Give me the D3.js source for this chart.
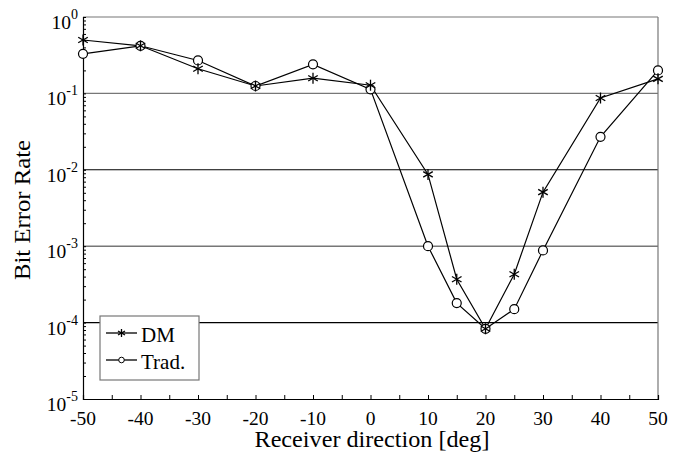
<!DOCTYPE html>
<html><head><meta charset="utf-8">
<script src="https://cdn.jsdelivr.net/npm/d3@7"></script>
<style>body{margin:0;background:#fff}svg{display:block}text{font-family:"Liberation Serif","DejaVu Serif",serif;fill:#000}</style>
</head><body><svg id="c" width="679" height="457"></svg>
<script>
const angles = [-50,-40,-30,-20,-10,0,10,15,20,25,30,40,50];
const dm   = [0.50,0.42,0.21,0.125,0.158,0.128,0.0087,3.7e-4,8.3e-5,4.3e-4,5.1e-3,0.087,0.155];
const trad = [0.33,0.42,0.27,0.125,0.24,0.113,0.001,1.8e-4,8.3e-5,1.5e-4,8.8e-4,0.027,0.20];
const xTicks = [-50,-40,-30,-20,-10,0,10,20,30,40,50];
const yExps = [0,-1,-2,-3,-4,-5];
const seriesNames = ["DM","Trad."];

const svg = d3.select("#c");
const L=83,R=658,T=17,B=399;
const x = d3.scaleLinear().domain([-50,50]).range([L,R]);
const y = d3.scaleLog().domain([1e-5,1]).range([B,T]);

// gridlines
yExps.filter(e=>e<0&&e>-5).forEach(e=>{
  const gray = (e===-1||e===-3);
  svg.append("line").attr("x1",L).attr("x2",R).attr("y1",y(Math.pow(10,e))).attr("y2",y(Math.pow(10,e)))
    .attr("stroke",gray?"#777":"#000").attr("stroke-width",gray?1.4:1.1);
});
// frame
svg.append("line").attr("x1",L).attr("x2",R).attr("y1",T).attr("y2",T).attr("stroke","#777").attr("stroke-width",1.2);
svg.append("line").attr("x1",R).attr("x2",R).attr("y1",T).attr("y2",B).attr("stroke","#777").attr("stroke-width",1.2);

// x axis
const xMinor = d3.range(-50,51,5);
const gx = svg.append("g").attr("transform",`translate(0,${B})`);
gx.call(d3.axisBottom(x).tickValues(xMinor).tickSize(-4).tickFormat(""));
gx.select(".domain").attr("stroke","#000").attr("stroke-width",1.2);
gx.selectAll(".tick line").attr("stroke","#000");
xTicks.forEach(v=>{
  svg.append("text").attr("x",x(v)).attr("y",425).attr("text-anchor","middle").attr("font-size",19.5).text(v);
});
// y axis
const yMinor=[];
for(let e=-5;e<0;e++) for(let k=1;k<10;k++) yMinor.push(k*Math.pow(10,e));
yMinor.push(1);
const gy = svg.append("g").attr("transform",`translate(${L},0)`);
gy.call(d3.axisLeft(y).tickValues(yMinor).tickSize(-3).tickFormat(""));
gy.select(".domain").attr("stroke","#000").attr("stroke-width",1.2);
gy.selectAll(".tick line").attr("stroke","#000");
yExps.forEach(e=>{
  const t = svg.append("text").attr("x",78).attr("y",y(Math.pow(10,e))+12).attr("text-anchor","end").attr("font-size",19.5);
  t.append("tspan").text("10");
  t.append("tspan").attr("dy",-10).attr("font-size",14).text(e);
});
// titles
svg.append("text").attr("x",372).attr("y",447).attr("text-anchor","middle").attr("font-size",23)
  .attr("textLength",235).attr("lengthAdjust","spacingAndGlyphs").text("Receiver direction [deg]");
svg.append("text").attr("transform","translate(30,210) rotate(-90)").attr("text-anchor","middle").attr("font-size",24)
  .attr("textLength",140).attr("lengthAdjust","spacingAndGlyphs").text("Bit Error Rate");

// lines
const line = d3.line().x((d,i)=>x(angles[i])).y(d=>y(d));
function star(g,cx,cy,r){
  const p = g.append("g").attr("transform",`translate(${cx},${cy})`);
  [[0,-r,0,r],[-r*0.87,-r*0.5,r*0.87,r*0.5],[-r*0.87,r*0.5,r*0.87,-r*0.5]].forEach(s=>
    p.append("line").attr("x1",s[0]).attr("y1",s[1]).attr("x2",s[2]).attr("y2",s[3]).attr("stroke","#000").attr("stroke-width",1.3));
}
svg.append("path").datum(trad).attr("d",line).attr("fill","none").attr("stroke","#000").attr("stroke-width",1.2);
svg.append("path").datum(dm).attr("d",line).attr("fill","none").attr("stroke","#000").attr("stroke-width",1.2);
trad.forEach((v,i)=>svg.append("circle").attr("cx",x(angles[i])).attr("cy",y(v)).attr("r",4.5).attr("fill","#fff").attr("stroke","#000").attr("stroke-width",1.2));
dm.forEach((v,i)=>star(svg,x(angles[i]),y(v),5.5));

// legend
svg.append("rect").attr("x",100).attr("y",316).attr("width",99).attr("height",64).attr("fill","#fff").attr("stroke","#777").attr("stroke-width",1.2);
[333,360].forEach((ly,i)=>{
  svg.append("line").attr("x1",106).attr("x2",137).attr("y1",ly).attr("y2",ly).attr("stroke","#000").attr("stroke-width",1.3);
  if(i===0) star(svg,121.5,ly,4); else svg.append("circle").attr("cx",121.5).attr("cy",ly).attr("r",2.8).attr("fill","#fff").attr("stroke","#000");
  svg.append("text").attr("x",141).attr("y",ly+9).attr("font-size",21).text(seriesNames[i]);
});
</script></body></html>
